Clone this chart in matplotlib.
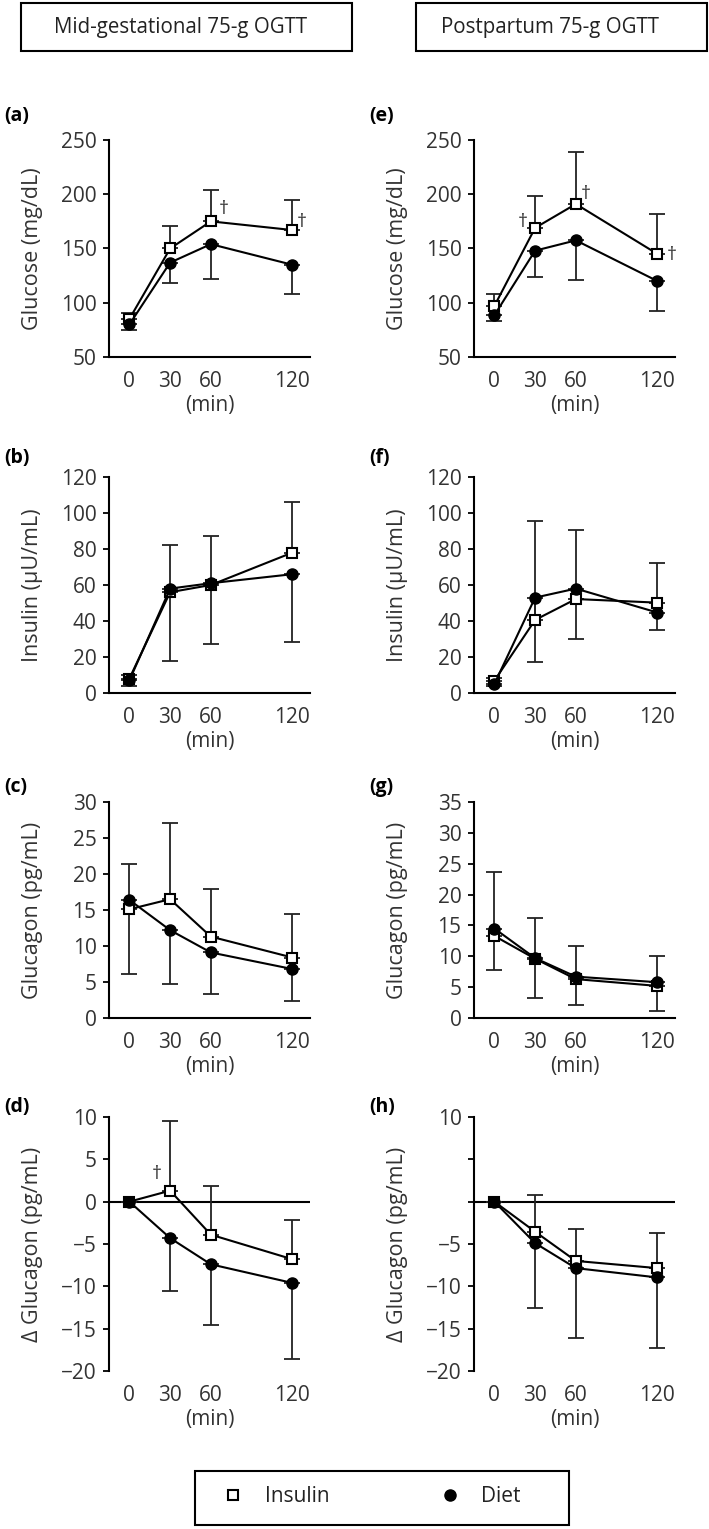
import numpy as np
import matplotlib
matplotlib.use('Agg')
import matplotlib.pyplot as plt
from matplotlib.lines import Line2D
from matplotlib.patches import Rectangle

plt.rcParams['font.family'] = ['Open Sans', 'DejaVu Sans']

time = [0, 30, 60, 120]

# mid-gestational OGTT
mid_glu_ins = [85, 150, 175, 167]
mid_glu_ins_sd = [6, 21, 29, 28]
mid_glu_diet = [80, 137, 154, 135]
mid_glu_diet_sd = [5, 19, 32, 27]

mid_insu_ins = [8, 56, 60, 78]
mid_insu_ins_sd = [2, 26.5, 27, 28]
mid_insu_diet = [7, 58, 61, 66]
mid_insu_diet_sd = [3, 40, 33.6, 37.8]

mid_gcg_ins = [15.1, 16.5, 11.3, 8.4]
mid_gcg_ins_sd = [6.3, 10.6, 6.6, 6.0]
mid_gcg_diet = [16.4, 12.2, 9.1, 6.8]
mid_gcg_diet_sd = [10.3, 7.5, 5.8, 4.4]

mid_dgcg_ins = [0, 1.3, -3.9, -6.8]
mid_dgcg_ins_sd = [0, 8.2, 5.7, 4.6]
mid_dgcg_diet = [0, -4.3, -7.4, -9.6]
mid_dgcg_diet_sd = [0, 6.2, 7.2, 9.0]

# postpartum OGTT
pp_glu_ins = [97, 169, 191, 145]
pp_glu_ins_sd = [11.5, 29.5, 48, 37]
pp_glu_diet = [88.5, 148, 157.5, 120]
pp_glu_diet_sd = [5.5, 24, 36.5, 27.5]

pp_insu_ins = [6.8, 40.6, 52.2, 50.2]
pp_insu_ins_sd = [1.5, 54.8, 38.6, 22.2]
pp_insu_diet = [5, 53, 58, 44.7]
pp_insu_diet_sd = [1, 35.8, 28, 9.7]

pp_gcg_ins = [13.3, 9.6, 6.3, 5.2]
pp_gcg_ins_sd = [10.4, 6.6, 5.3, 4.9]
pp_gcg_diet = [14.5, 9.7, 6.7, 5.8]
pp_gcg_diet_sd = [6.8, 6.5, 4.6, 4.6]

pp_dgcg_ins = [0, -3.55, -7.0, -7.85]
pp_dgcg_ins_sd = [0, 4.35, 3.8, 4.1]
pp_dgcg_diet = [0, -4.9, -7.85, -8.95]
pp_dgcg_diet_sd = [0, 7.6, 8.2, 8.35]

titles = ['Mid-gestational 75-g OGTT', 'Postpartum 75-g OGTT']
legend_labels = ['Insulin', 'Diet']

W, H = 709, 1529
fig = plt.figure(figsize=(W / 100, H / 100), dpi=100)

col_x = [109, 474]
ax_w = 201
rows = [(140, 217), (477, 216), (802, 216), (1117, 254)]
label_y = [116, 458, 787, 1107]
label_x = [4, 369]

panels = [
    # col, row, letter, ylabel, ylim, yticks, data, daggers {idx: (dx, dy)}
    (0, 0, '(a)', 'Glucose (mg/dL)', (50, 250), np.arange(50, 251, 50),
     (mid_glu_ins, mid_glu_ins_sd, mid_glu_diet, mid_glu_diet_sd), {2: (9, 9), 3: (7, 6)}),
    (0, 1, '(b)', 'Insulin (μU/mL)', (0, 120), np.arange(0, 121, 20),
     (mid_insu_ins, mid_insu_ins_sd, mid_insu_diet, mid_insu_diet_sd), {}),
    (0, 2, '(c)', 'Glucagon (pg/mL)', (0, 30), np.arange(0, 31, 5),
     (mid_gcg_ins, mid_gcg_ins_sd, mid_gcg_diet, mid_gcg_diet_sd), {}),
    (0, 3, '(d)', 'Δ Glucagon (pg/mL)', (-20, 10), np.arange(-20, 11, 5),
     (mid_dgcg_ins, mid_dgcg_ins_sd, mid_dgcg_diet, mid_dgcg_diet_sd), {1: (-10, 12)}),
    (1, 0, '(e)', 'Glucose (mg/dL)', (50, 250), np.arange(50, 251, 50),
     (pp_glu_ins, pp_glu_ins_sd, pp_glu_diet, pp_glu_diet_sd), {1: (-9, 4), 2: (7, 7), 3: (10, -1)}),
    (1, 1, '(f)', 'Insulin (μU/mL)', (0, 120), np.arange(0, 121, 20),
     (pp_insu_ins, pp_insu_ins_sd, pp_insu_diet, pp_insu_diet_sd), {}),
    (1, 2, '(g)', 'Glucagon (pg/mL)', (0, 35), np.arange(0, 36, 5),
     (pp_gcg_ins, pp_gcg_ins_sd, pp_gcg_diet, pp_gcg_diet_sd), {}),
    (1, 3, '(h)', 'Δ Glucagon (pg/mL)', (-20, 10), np.arange(-20, 11, 5),
     (pp_dgcg_ins, pp_dgcg_ins_sd, pp_dgcg_diet, pp_dgcg_diet_sd), {}),
]

fs = 15
for col, row, letter, ylab, ylim, yticks, data, daggers in panels:
    top, h = rows[row]
    ax = fig.add_axes([col_x[col] / W, 1 - (top + h) / H, ax_w / W, h / H])
    ins, ins_sd, diet, diet_sd = [np.array(d, dtype=float) for d in data]
    z = np.zeros(4)

    ax.errorbar(time, ins, yerr=[z, ins_sd], fmt='none', ecolor='#222222',
                elinewidth=1.3, capsize=6, capthick=1.3, zorder=2)
    ax.errorbar(time, diet, yerr=[diet_sd, z], fmt='none', ecolor='#222222',
                elinewidth=1.3, capsize=6, capthick=1.3, zorder=2)
    ax.plot(time, ins, '-s', color='black', lw=1.5, ms=7.5, mfc='white',
            mec='black', mew=1.5, zorder=3)
    ax.plot(time, diet, '-o', color='black', lw=1.5, ms=8, mfc='black',
            mec='black', zorder=4)

    for i, (dx, dy) in daggers.items():
        ax.annotate('†', (time[i], ins[i]), xytext=(dx, dy), textcoords='offset points',
                    ha='center', va='center', fontsize=14, color='#333333')

    ax.set_xlim(-15, 133)
    ax.set_ylim(*ylim)
    ax.set_yticks(yticks)
    if letter == '(h)':
        ax.set_yticklabels(['−20', '−15', '−10', '−5', '', '', '10'])
    ax.set_xticks(time)
    ax.set_xticklabels(['0', '30', '60', '120'])
    ax.tick_params(axis='x', length=0, pad=10, labelsize=fs, labelcolor='#333333')
    ax.tick_params(axis='y', length=4, width=1.3, pad=5, labelsize=fs, labelcolor='#333333')
    ax.set_xlabel('(min)', fontsize=fs, color='#333333', labelpad=2)
    ax.set_ylabel(ylab, fontsize=15.5, color='#333333')
    ax.yaxis.set_label_coords(-66 / ax_w, 0.5)

    for s in ['top', 'right']:
        ax.spines[s].set_visible(False)
    ax.spines['left'].set_linewidth(1.5)
    ax.spines['bottom'].set_linewidth(1.5)
    if row == 3:
        ax.spines['bottom'].set_visible(False)
        ax.axhline(0, color='black', lw=1.5, zorder=1)

    fig.text(label_x[col] / W, 1 - label_y[row] / H, letter, fontsize=14,
             fontweight='bold', ha='left', va='center')

# header boxes
boxes = [(21, 3, 331, 48), (416, 3, 291, 48)]
text_cx = [181, 550]
for (bx, by, bw, bh), title, cx in zip(boxes, titles, text_cx):
    fig.patches.append(Rectangle((bx / W, 1 - (by + bh) / H), bw / W, bh / H,
                                 transform=fig.transFigure, fill=False,
                                 edgecolor='black', lw=1.5))
    fig.text(cx / W, 1 - 28 / H, title, fontsize=14.8, ha='center', va='center',
             color='#222222')

# legend
fig.patches.append(Rectangle((195 / W, 1 - 1525 / H), 374 / W, 54 / H,
                             transform=fig.transFigure, fill=False,
                             edgecolor='black', lw=1.5))
handles = [
    Line2D([], [], ls='none', marker='s', ms=7.5, mfc='white', mec='black', mew=1.5),
    Line2D([], [], ls='none', marker='o', ms=8, mfc='black', mec='black'),
]
fig.legend(handles, legend_labels, ncol=2, frameon=False, loc='center left',
           bbox_to_anchor=(223 / W, 1 - 1497 / H), borderpad=0, borderaxespad=0,
           handlelength=1.0, handletextpad=1.0, columnspacing=5.3, fontsize=15,
           labelcolor='#222222')

fig.savefig('out.png', dpi=100)
